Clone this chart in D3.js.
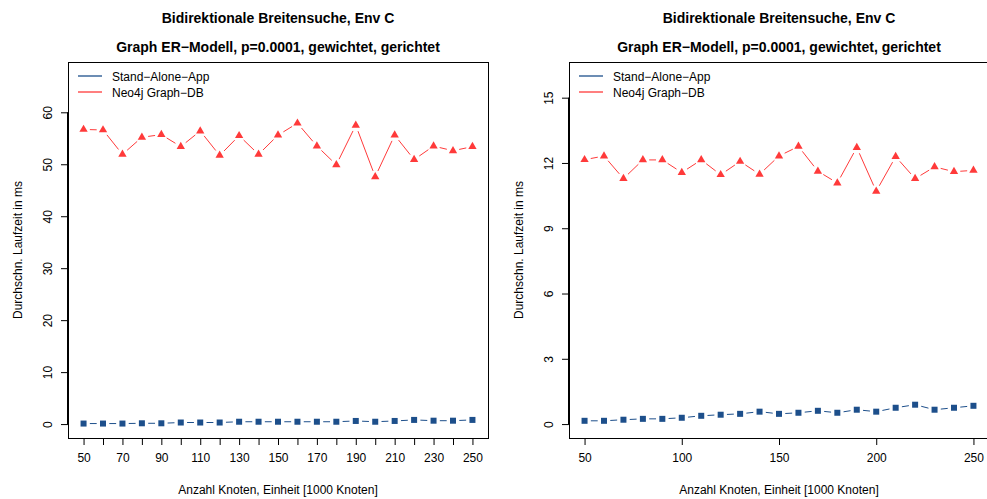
<!DOCTYPE html>
<html>
<head>
<meta charset="utf-8">
<script src="https://cdn.jsdelivr.net/npm/d3@7"></script>
<style>
  html, body { margin: 0; padding: 0; background: #fff; }
  svg { display: block; font-family: "Liberation Sans", Arial, Helvetica, sans-serif; }
</style>
</head>
<body>
<svg id="chart" width="987" height="499"></svg>
<script>
// Knotenanzahl in Tausend
const knoten = [50, 60, 70, 80, 90, 100, 110, 120, 130, 140, 150, 160, 170, 180, 190, 200, 210, 220, 230, 240, 250];

// Linkes Diagramm: durchschnittliche Laufzeit in ms
const appLinks = [0.1, 0.1, 0.1, 0.15, 0.15, 0.3, 0.3, 0.3, 0.45, 0.45, 0.45, 0.45, 0.45, 0.45, 0.6, 0.45, 0.6, 0.8, 0.65, 0.65, 0.8];
const neo4jLinks = [56.7, 56.6, 51.9, 55.2, 55.7, 53.4, 56.4, 51.7, 55.5, 51.9, 55.6, 57.9, 53.5, 49.9, 57.5, 47.6, 55.6, 50.9, 53.5, 52.6, 53.4];

// Rechtes Diagramm: durchschnittliche Laufzeit in ms
const appRechts = [0.15, 0.15, 0.2, 0.24, 0.24, 0.29, 0.38, 0.43, 0.47, 0.57, 0.47, 0.52, 0.61, 0.52, 0.66, 0.57, 0.75, 0.89, 0.66, 0.75, 0.84];
const neo4jRechts = [12.15, 12.32, 11.28, 12.14, 12.14, 11.56, 12.14, 11.46, 12.07, 11.48, 12.32, 12.76, 11.62, 11.08, 12.71, 10.70, 12.29, 11.28, 11.82, 11.60, 11.66];

// Achsenbeschriftungen
const xTicksLinks = [50, 60, 70, 80, 90, 100, 110, 120, 130, 140, 150, 160, 170, 180, 190, 200, 210, 220, 230, 240, 250];
const xLabelsLinks = [50, 70, 90, 110, 130, 150, 170, 190, 210, 230, 250];
const xTicksRechts = [50, 100, 150, 200, 250];
const yTicksLinks = [0, 10, 20, 30, 40, 50, 60];
const yTicksRechts = [0, 3, 6, 9, 12, 15];

const titel1 = "Bidirektionale Breitensuche, Env C";
const titel2 = "Graph ER\u2212Modell, p=0.0001, gewichtet, gerichtet";
const xTitel = "Anzahl Knoten, Einheit [1000 Knoten]";
const yTitel = "Durchschn. Laufzeit in ms";
const serienNamen = ["Stand\u2212Alone\u2212App", "Neo4j Graph\u2212DB"];

const BLAU = "#1d4f8b";
const ROT = "#ff3a3a";

const svg = d3.select("#chart");

function panel(opts) {
  const { left, right, top, bottom, ylim, xTicks, xLabels, yTicks, app, neo } = opts;
  const g = svg.append("g");

  // R-style 4% axis extension
  const xr = [42, 258];
  const yext = (ylim[1] - ylim[0]) * 0.04;
  const x = d3.scaleLinear().domain(xr).range([left, right]);
  const y = d3.scaleLinear().domain([ylim[0] - yext, ylim[1] + yext]).range([bottom, top]);

  // Titles
  const cx = (left + right) / 2;
  g.append("text").attr("x", cx).attr("y", 23).attr("text-anchor", "middle")
    .attr("font-size", 14).attr("font-weight", "bold").text(titel1);
  g.append("text").attr("x", cx).attr("y", 52).attr("text-anchor", "middle")
    .attr("font-size", 14).attr("font-weight", "bold").text(titel2);

  // X axis
  const xAxis = d3.axisBottom(x).tickValues(xTicks).tickSize(7).tickPadding(8)
    .tickFormat(d => xLabels.includes(d) ? d : "");
  const xa = g.append("g").attr("transform", `translate(0,${bottom})`).call(xAxis);
  xa.select(".domain").remove();
  xa.append("line").attr("x1", x(xTicks[0])).attr("x2", x(xTicks[xTicks.length - 1]))
    .attr("y1", 0.5).attr("y2", 0.5).attr("stroke", "#000");
  xa.selectAll(".tick line").attr("stroke", "#000");
  xa.selectAll(".tick text").attr("font-size", 12).attr("fill", "#000")
    .attr("font-family", "Liberation Sans, Arial, sans-serif");

  // Y axis (labels rotated as in R default)
  const yAxis = d3.axisLeft(y).tickValues(yTicks).tickSize(7).tickFormat(d3.format("d"));
  const ya = g.append("g").attr("transform", `translate(${left},0)`).call(yAxis);
  ya.select(".domain").remove();
  ya.append("line").attr("x1", -0.5).attr("x2", -0.5)
    .attr("y1", y(yTicks[0])).attr("y2", y(yTicks[yTicks.length - 1])).attr("stroke", "#000");
  ya.selectAll(".tick line").attr("stroke", "#000");
  ya.selectAll(".tick text")
    .attr("font-size", 12).attr("fill", "#000")
    .attr("font-family", "Liberation Sans, Arial, sans-serif")
    .attr("x", null).attr("dy", null)
    .attr("text-anchor", "middle")
    .attr("transform", "translate(-16,0) rotate(-90)");

  // Axis titles
  g.append("text").attr("x", cx).attr("y", 494).attr("text-anchor", "middle")
    .attr("font-size", 12).text(xTitel);
  g.append("text").attr("transform", `translate(${left - 46},${(top + bottom) / 2}) rotate(-90)`)
    .attr("text-anchor", "middle").attr("font-size", 12).text(yTitel);

  // Plot box
  g.append("rect").attr("x", left + 0.5).attr("y", top + 0.5)
    .attr("width", right - left).attr("height", bottom - top)
    .attr("fill", "none").attr("stroke", "#000");

  // type="b" lines: segments with a gap around every point
  function linien(values, color, dash) {
    const gap = 6.3;
    const pts = knoten.map((k, i) => [x(k), y(values[i])]);
    const segs = [];
    for (let i = 0; i < pts.length - 1; i++) {
      const [x0, y0] = pts[i], [x1, y1] = pts[i + 1];
      const L = Math.hypot(x1 - x0, y1 - y0);
      if (L > 2 * gap) {
        const ux = (x1 - x0) / L, uy = (y1 - y0) / L;
        segs.push([x0 + ux * gap, y0 + uy * gap, x1 - ux * gap, y1 - uy * gap]);
      }
    }
    g.append("g").selectAll("line").data(segs).join("line")
      .attr("x1", d => d[0]).attr("y1", d => d[1])
      .attr("x2", d => d[2]).attr("y2", d => d[3])
      .attr("stroke", color).attr("stroke-width", 1)
      .attr("stroke-dasharray", dash);
  }

  linien(app, BLAU, null);
  linien(neo, ROT, null);

  // Markers
  const sq = 6;
  g.append("g").selectAll("rect").data(app).join("rect")
    .attr("x", (d, i) => x(knoten[i]) - sq / 2)
    .attr("y", d => y(d) - sq / 2)
    .attr("width", sq).attr("height", sq).attr("fill", BLAU);

  const tri = d3.symbol().type(d3.symbolTriangle).size(30);
  g.append("g").selectAll("path").data(neo).join("path")
    .attr("d", tri)
    .attr("transform", (d, i) => `translate(${x(knoten[i])},${y(d)})`)
    .attr("fill", ROT);

  // Legend
  const leg = g.append("g");
  [BLAU, ROT].forEach((c, i) => {
    const ly = 76 + i * 16;
    leg.append("line").attr("x1", left + 10).attr("x2", left + 34)
      .attr("y1", ly).attr("y2", ly).attr("stroke", c).attr("stroke-width", 1.3);
    leg.append("text").attr("x", left + 44).attr("y", ly + 4.5)
      .attr("font-size", 12).text(serienNamen[i]);
  });
}

panel({ left: 68, right: 488, top: 62, bottom: 438, ylim: [0, 67],
        xTicks: xTicksLinks, xLabels: xLabelsLinks, yTicks: yTicksLinks,
        app: appLinks, neo: neo4jLinks });

panel({ left: 569, right: 989, top: 62, bottom: 438, ylim: [0, 16],
        xTicks: xTicksRechts, xLabels: xTicksRechts, yTicks: yTicksRechts,
        app: appRechts, neo: neo4jRechts });
</script>
</body>
</html>
